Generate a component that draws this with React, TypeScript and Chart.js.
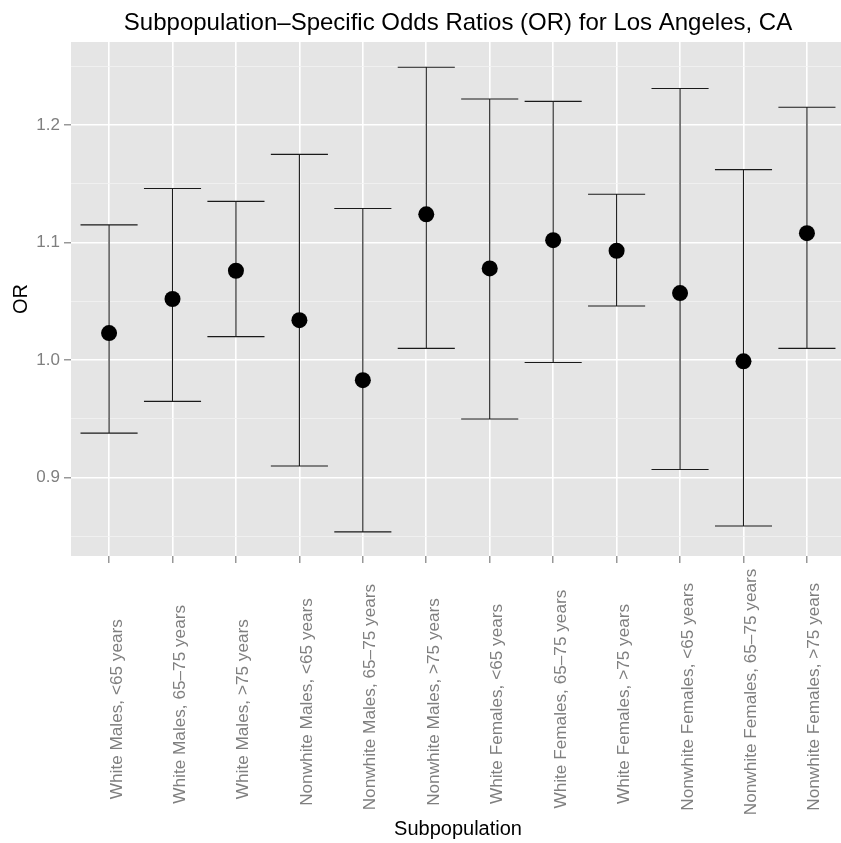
import React, { useEffect, useRef } from "react";
import { Chart, registerables } from "chart.js";

Chart.register(...registerables);

const categories = [
  "White Males, <65 years",
  "White Males, 65–75 years",
  "White Males, >75 years",
  "Nonwhite Males, <65 years",
  "Nonwhite Males, 65–75 years",
  "Nonwhite Males, >75 years",
  "White Females, <65 years",
  "White Females, 65–75 years",
  "White Females, >75 years",
  "Nonwhite Females, <65 years",
  "Nonwhite Females, 65–75 years",
  "Nonwhite Females, >75 years",
];
const orValues = [1.023, 1.052, 1.076, 1.034, 0.983, 1.124, 1.078, 1.102, 1.093, 1.057, 0.999, 1.108];
const lowerCI = [0.938, 0.965, 1.020, 0.910, 0.854, 1.010, 0.950, 0.998, 1.046, 0.907, 0.859, 1.010];
const upperCI = [1.115, 1.146, 1.135, 1.175, 1.129, 1.249, 1.222, 1.220, 1.141, 1.231, 1.162, 1.215];
const yMajorTicks = [0.9, 1.0, 1.1, 1.2];
const yMinorTicks = [0.85, 0.95, 1.05, 1.15, 1.25];

const FONT = '"Liberation Sans", Arial, Helvetica, sans-serif';

export default function App() {
  const ref = useRef<HTMLCanvasElement>(null);

  useEffect(() => {
    if (!ref.current) return;
    Chart.defaults.font.family = FONT;

    const panelBg = {
      id: "panelBg",
      beforeDraw(chart: any) {
        const { ctx, chartArea: a } = chart;
        ctx.save();
        ctx.fillStyle = "#e5e5e5";
        ctx.fillRect(a.left, a.top, a.right - a.left, a.bottom - a.top);
        ctx.restore();
      },
    };

    const errorBars = {
      id: "errorBars",
      beforeDatasetsDraw(chart: any) {
        const { ctx, scales } = chart;
        const x = scales.x;
        const y = scales.y;
        ctx.save();
        ctx.strokeStyle = "#1a1a1a";
        ctx.lineWidth = 1.1;
        categories.forEach((_, i) => {
          const xc = x.getPixelForValue(i + 1);
          const xl = x.getPixelForValue(i + 1 - 0.45);
          const xr = x.getPixelForValue(i + 1 + 0.45);
          const yl = y.getPixelForValue(lowerCI[i]);
          const yu = y.getPixelForValue(upperCI[i]);
          ctx.beginPath();
          ctx.moveTo(xl, yu);
          ctx.lineTo(xr, yu);
          ctx.moveTo(xc, yu);
          ctx.lineTo(xc, yl);
          ctx.moveTo(xl, yl);
          ctx.lineTo(xr, yl);
          ctx.stroke();
        });
        ctx.restore();
      },
    };

    const xLabels = {
      id: "xLabels",
      afterDraw(chart: any) {
        const { ctx, scales } = chart;
        const x = scales.x;
        ctx.save();
        ctx.font = `17.2px ${FONT}`;
        ctx.fillStyle = "#7f7f7f";
        ctx.textAlign = "left";
        ctx.textBaseline = "alphabetic";
        categories.forEach((label, i) => {
          const px = x.getPixelForValue(i + 1);
          const w = ctx.measureText(label).width;
          ctx.save();
          ctx.translate(px + 12.5, 756);
          ctx.rotate(-Math.PI / 2);
          ctx.fillText(label, -0.24 * w, 0);
          ctx.restore();
        });
        ctx.restore();
      },
    };

    const isMajor = (v: number) => yMajorTicks.some((t) => Math.abs(t - v) < 1e-9);

    const chart = new Chart(ref.current, {
      type: "scatter",
      data: {
        datasets: [
          {
            label: "OR",
            data: orValues.map((v, i) => ({ x: i + 1, y: v })),
            pointRadius: 8,
            pointHoverRadius: 8,
            pointBackgroundColor: "#000000",
            pointBorderColor: "#000000",
            pointBorderWidth: 0,
          },
        ],
      },
      options: {
        responsive: false,
        animation: false,
        devicePixelRatio: 1,
        layout: { autoPadding: false, padding: { top: 0, left: 0, right: 1, bottom: 0 } },
        plugins: {
          legend: { display: false },
          tooltip: { enabled: false },
          title: {
            display: true,
            fullSize: false,
            text: "Subpopulation–Specific Odds Ratios (OR) for Los Angeles, CA",
            color: "#000000",
            font: { size: 24, weight: "normal", family: FONT, lineHeight: 1.2 },
            padding: { top: 9, bottom: 4.2 },
          },
        },
        scales: {
          x: {
            type: "linear",
            min: 0.4,
            max: 12.6,
            afterBuildTicks: (scale: any) => {
              scale.ticks = categories.map((_, i) => ({ value: i + 1 }));
            },
            afterFit: (scale: any) => {
              scale.height = 843 - 556;
            },
            border: { display: false },
            grid: {
              color: "#ffffff",
              lineWidth: 1.6,
              drawTicks: true,
              tickLength: 7,
              tickColor: "#7f7f7f",
              tickWidth: 1.2,
            },
            ticks: { display: false },
            title: {
              display: true,
              text: "Subpopulation",
              color: "#000000",
              font: { size: 20, family: FONT, lineHeight: 1.2 },
              padding: { top: 0, bottom: 2 },
            },
          },
          y: {
            type: "linear",
            min: 0.8335,
            max: 1.2705,
            afterBuildTicks: (scale: any) => {
              scale.ticks = [...yMajorTicks, ...yMinorTicks]
                .sort((a, b) => a - b)
                .map((v) => ({ value: v }));
            },
            afterFit: (scale: any) => {
              scale.width = 71;
            },
            border: { display: false },
            grid: {
              color: (c: any) => (c.tick && isMajor(c.tick.value) ? "#ffffff" : "#f2f2f2"),
              lineWidth: (c: any) => (c.tick && isMajor(c.tick.value) ? 1.6 : 0.8),
              drawTicks: true,
              tickLength: 7,
              tickColor: (c: any) => (c.tick && isMajor(c.tick.value) ? "#7f7f7f" : "rgba(0,0,0,0)"),
              tickWidth: 1.2,
            },
            ticks: {
              color: "#7f7f7f",
              font: { size: 17, family: FONT },
              padding: 4,
              callback: (v: any) => (isMajor(Number(v)) ? Number(v).toFixed(1) : ""),
            },
            title: {
              display: true,
              text: "OR",
              color: "#000000",
              font: { size: 20, family: FONT, lineHeight: 1.2 },
              padding: { top: 9, bottom: 0 },
            },
          },
        },
      },
      plugins: [panelBg, errorBars, xLabels],
    } as any);

    return () => chart.destroy();
  }, []);

  return (
    <div
      style={{
        position: "fixed",
        left: 0,
        top: 0,
        width: 841,
        height: 843,
        overflow: "hidden",
        background: "#ffffff",
      }}
    >
      <canvas ref={ref} width={846} height={843} style={{ display: "block" }} />
    </div>
  );
}
